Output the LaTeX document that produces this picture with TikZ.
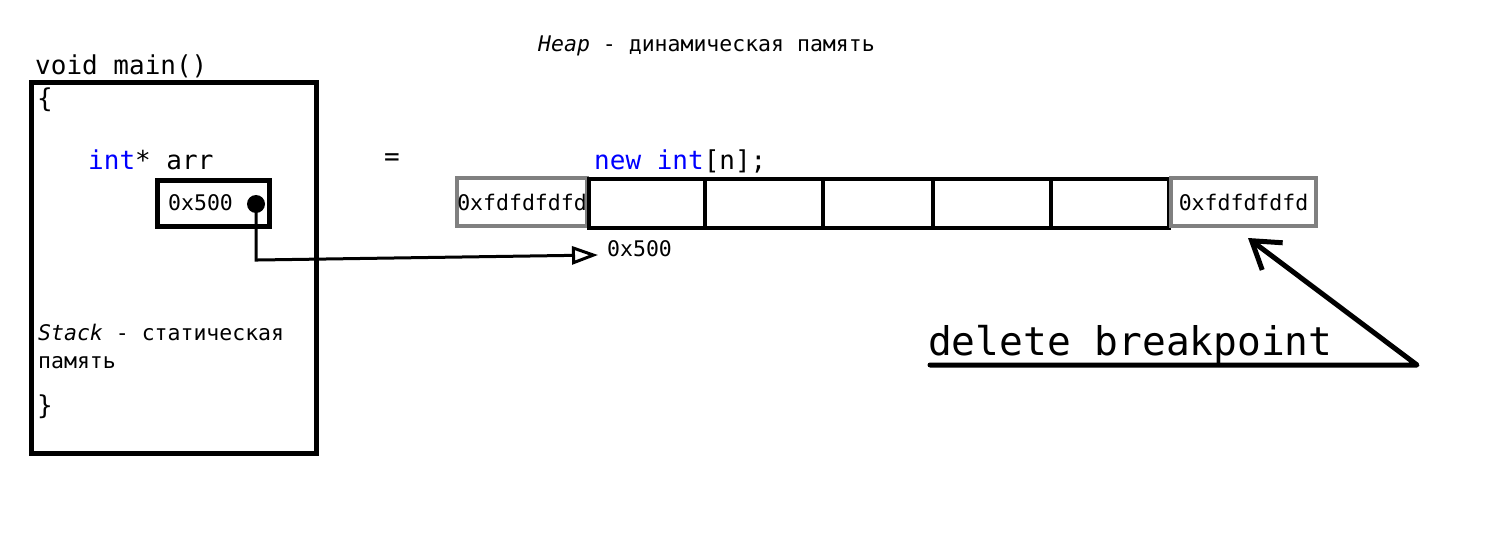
\documentclass[tikz,border=0pt]{standalone}
\usepackage{fontspec}
\setmonofont{DejaVu Sans Mono}
\usetikzlibrary{arrows.meta}
\definecolor{kwblue}{RGB}{0,0,255}
\definecolor{guardgray}{RGB}{128,128,128}
\tikzset{
  txt/.style={inner sep=0pt, anchor=base west, font=\ttfamily\fontsize{21.5}{26}\selectfont},
  bigtxt/.style={inner sep=0pt, anchor=base west, font=\ttfamily\fontsize{26}{30}\selectfont},
  hugetxt/.style={inner sep=0pt, anchor=base west, font=\ttfamily\fontsize{39.5}{46}\selectfont},
  thickbox/.style={draw=black, line width=5pt, inner sep=0pt, outer sep=0pt},
  cell/.style={draw=black, line width=4.5pt, inner sep=0pt, outer sep=0pt, minimum height=49pt},
  guard/.style={draw=guardgray, line width=4pt, inner sep=0pt, outer sep=0pt, minimum height=48pt, font=\ttfamily\fontsize{21.5}{26}\selectfont},
  wire/.style={draw=black, line width=3pt},
  pointer/.style={draw=black, line width=5pt, line cap=round, line join=round},
}
\begin{document}
\begin{tikzpicture}[x=1pt,y=-1pt]
\useasboundingbox (0,0) rectangle (1506,540);
\fill[white] (0,0) rectangle (1506,540);

% titles
\node[txt] (heap) at (538,52) {\textit{Heap} - динамическая память};
\node[bigtxt] (main) at (35,75) {void main()};

% stack frame
\node[thickbox, minimum width=285pt, minimum height=370pt, anchor=north west] (stack) at (31.5,83) {};
\node[bigtxt] (lbrace) at (37,108) {\{};
\node[bigtxt] (decl) at (88,170) {\textcolor{kwblue}{int}* arr};
\node[thickbox, minimum width=112pt, minimum height=45pt, anchor=north west] (ptr) at (157,181) {};
\node[txt] (ptrval) at (168,211) {0x500};
\node[circle, fill=black, inner sep=0pt, minimum size=18pt] (dot) at (256,204) {};
\node[txt] (stacklbl) at (38,340) {\textit{Stack} - статическая};
\node[txt] (stacklbl2) at (38,368) {память};
\node[bigtxt] (rbrace) at (37,414) {\}};

% assignment
\node[bigtxt] (eq) at (384,166) {=};
\node[bigtxt] (newexpr) at (594,170) {\textcolor{kwblue}{new int}[n];};

% heap array
\node[guard, minimum width=130pt, anchor=north west] (gl) at (457,178) {0xfdfdfdfd};
\node[cell, minimum width=116pt, anchor=north west] (c1) at (589,179) {};
\node[cell, minimum width=118pt, anchor=north west] (c2) at (705,179) {};
\node[cell, minimum width=110pt, anchor=north west] (c3) at (823,179) {};
\node[cell, minimum width=118pt, anchor=north west] (c4) at (933,179) {};
\node[cell, minimum width=118pt, anchor=north west] (c5) at (1051,179) {};
\node[guard, minimum width=145pt, anchor=north west] (gr) at (1171,178) {0xfdfdfdfd};
\node[txt] (addr) at (607,256) {0x500};

% pointer arrow
\coordinate (bend) at (258,260);
\coordinate (tip) at (598,255);
\draw[wire, -{Triangle[open, length=26pt, width=18pt, line width=3pt]}] (dot.center) |- (bend) -- (tip);

% delete breakpoint
\node[hugetxt] (del) at (928,355) {delete breakpoint};
\coordinate (ul) at (930,365);
\coordinate (corner) at (1417,365);
\coordinate (deltip) at (1248,238);
\draw[pointer, -{Straight Barb[length=26pt, width=34pt, line width=5pt]}] (ul) -- (corner) -- (deltip);
\end{tikzpicture}
\end{document}
